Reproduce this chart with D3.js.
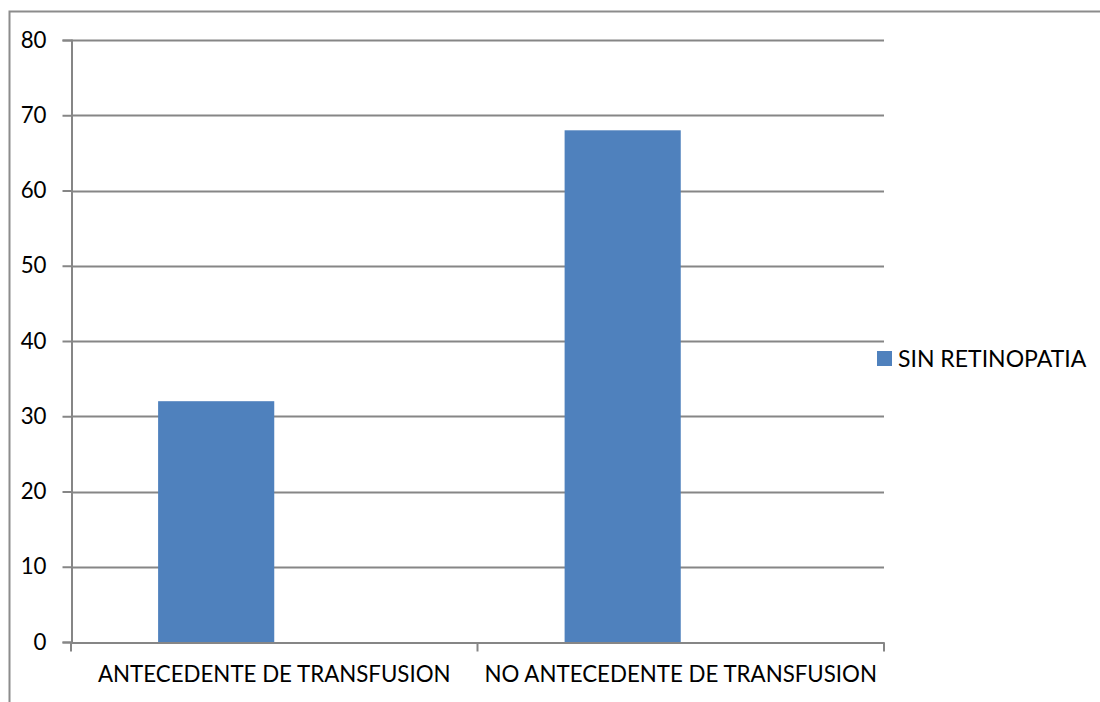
<!DOCTYPE html>
<html>
<head>
<meta charset="utf-8">
<script src="https://cdn.jsdelivr.net/npm/d3@7"></script>
<style>
  html, body { margin: 0; padding: 0; background: #fff; }
  svg { display: block; }
  text { font-family: Lato, "Open Sans", sans-serif; fill: #000; }
</style>
</head>
<body>
<svg id="chart" width="1100" height="702"></svg>
<script>
const categories = ["ANTECEDENTE DE TRANSFUSION", "NO ANTECEDENTE DE TRANSFUSION"];
const seriesNames = ["SIN RETINOPATIA"];
const seriesValues = [32, 68];
const yTicks = [0, 10, 20, 30, 40, 50, 60, 70, 80];

const svg = d3.select("#chart");
const W = 1100, H = 702;
const margin = { left: 71, top: 40, right: 884, bottom: 642 };
const gridColor = "#868686";
const barColor = "#4F81BD";
const fontSize = 22.3;

// outer chart border
svg.append("rect")
  .attr("x", 9.5).attr("y", 11.5)
  .attr("width", W + 20).attr("height", H + 20)
  .attr("fill", "none").attr("stroke", "#8c8c8c").attr("stroke-width", 2);

const x = d3.scaleBand().domain(categories).range([margin.left, margin.right]).paddingInner(0).paddingOuter(0);
const y = d3.scaleLinear().domain([0, 80]).range([margin.bottom, margin.top]);

// horizontal gridlines
svg.append("g").selectAll("line").data(yTicks.filter(d => d > 0)).join("line")
  .attr("x1", margin.left).attr("x2", margin.right)
  .attr("y1", d => Math.round(y(d)) + 0.5).attr("y2", d => Math.round(y(d)) + 0.5)
  .attr("stroke", gridColor).attr("stroke-width", 2);

// y axis
const yAxis = d3.axisLeft(y).tickValues(yTicks).tickSize(9).tickPadding(16).tickFormat(d3.format("d"));
const gy = svg.append("g").attr("transform", `translate(${margin.left + 0.5},0)`).call(yAxis);
gy.select(".domain").attr("stroke", gridColor).attr("stroke-width", 2);
gy.selectAll(".tick line").attr("stroke", gridColor).attr("stroke-width", 2);
gy.selectAll(".tick text").attr("font-size", fontSize).attr("font-family", "Lato, sans-serif");

// x axis
const xAxis = d3.axisBottom(x).tickSize(0).tickPadding(24);
const gx = svg.append("g").attr("transform", `translate(0,${Math.round(margin.bottom) + 0.5})`).call(xAxis);
gx.select(".domain").attr("stroke", gridColor).attr("stroke-width", 2);
gx.selectAll(".tick line").remove();
gx.selectAll(".tick text").attr("font-size", fontSize).attr("font-family", "Lato, sans-serif");
// boundary tick marks between categories
const boundaries = [margin.left, ...categories.map(c => x(c) + x.bandwidth())];
gx.selectAll(".bnd").data(boundaries).join("line").attr("class", "bnd")
  .attr("x1", d => d).attr("x2", d => d).attr("y1", 0).attr("y2", 9)
  .attr("stroke", gridColor).attr("stroke-width", 2);

// bars (two slots per category, second empty; gap width 150%)
const bw = x.bandwidth() / 3.5;
svg.append("g").selectAll("rect").data(seriesValues).join("rect")
  .attr("x", (d, i) => x(categories[i]) + bw * 0.75)
  .attr("width", bw)
  .attr("y", d => y(d))
  .attr("height", d => y(0) - y(d))
  .attr("fill", barColor);

// legend
const lg = svg.append("g").attr("transform", "translate(877,351)");
lg.append("rect").attr("width", 15).attr("height", 15).attr("fill", barColor);
lg.append("text").attr("x", 21).attr("y", 7.5).attr("dy", "0.35em")
  .attr("font-size", fontSize + 0.7).text(seriesNames[0]);
</script>
</body>
</html>
